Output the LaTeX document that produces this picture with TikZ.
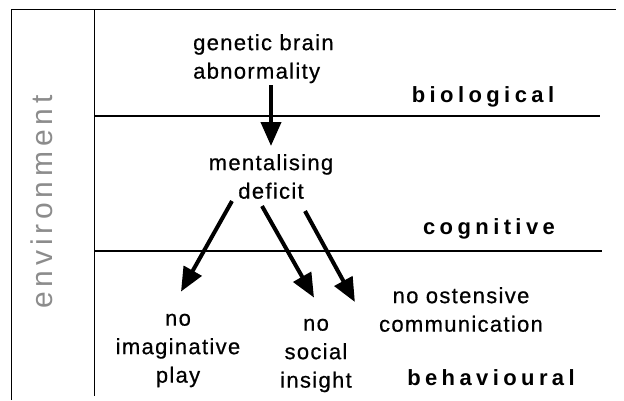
\documentclass[tikz,border=0pt]{standalone}
\usepackage{fontspec}
\setmainfont{Liberation Sans}
\newfontfamily\boxfont[LetterSpace=6,FakeBold=0.6]{Liberation Sans}
\newfontfamily\layerfont[LetterSpace=20]{Liberation Sans}
\newfontfamily\envfont[LetterSpace=16]{Liberation Sans}
\usetikzlibrary{arrows.meta}

\begin{document}
\begin{tikzpicture}[
  x=1pt, y=-1pt,
  arr/.style={-{Triangle[length=24pt,width=20pt]}, line width=4pt},
  rule/.style={line width=1.3pt},
  txt/.style={font=\boxfont\fontsize{22}{28.5}\selectfont, align=center, inner sep=2pt},
  layer/.style={font=\layerfont\bfseries\fontsize{22}{26}\selectfont, inner sep=0pt},
  env/.style={font=\envfont\fontsize{30}{30}\selectfont, text=black!45, rotate=90}
]
  \useasboundingbox (0,0) rectangle (624,400);
  % frame
  \draw[line width=1pt] (11,400) -- (11,9) -- (616,9);
  \draw[line width=1pt] (94,9) -- (94,396);
  \draw[rule] (94,116) -- (600,116);
  \draw[rule] (94,251) -- (602,251);

  % nodes
  \node[env] (env) at (42,202) {environment};
  \node[txt, align=left, anchor=north west] (gene) at (191,32) {genetic brain\\abnormality};
  \node[txt, anchor=north] (ment) at (271,152) {mentalising\\deficit};
  \node[txt, anchor=north] (imag) at (178,311.6) {no\\imaginative\\play};
  \node[txt, anchor=north] (soci) at (316,316.6) {no\\social\\insight};
  \node[txt, anchor=north] (oste) at (461,285) {no ostensive\\communication};
  \node[layer, anchor=base] (biol) at (483,102) {biological};
  \node[layer, anchor=base] (cogn) at (489,234) {cognitive};
  \node[layer, anchor=base] (behav) at (491,385) {behavioural};

  % edges
  \draw[arr] (ment.north |- gene.south) -- ([yshift=6pt]ment.north);
  \draw[arr] ([xshift=-39pt]ment.south) -- ([xshift=3pt,yshift=20pt]imag.north);
  \draw[arr] ([xshift=-9pt,yshift=-5pt]ment.south) -- ([xshift=-2pt,yshift=19pt]soci.north);
  \draw[arr] ([xshift=34pt,yshift=-10pt]ment.south) -- ([xshift=-22pt,yshift=-17pt]oste.north west);
\end{tikzpicture}
\end{document}
